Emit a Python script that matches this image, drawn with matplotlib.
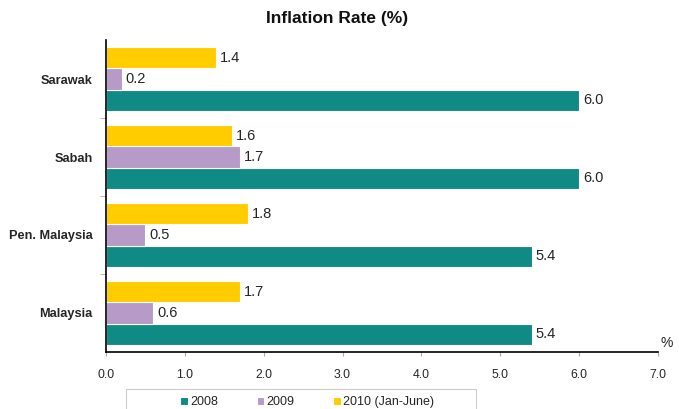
import matplotlib.pyplot as plt
import numpy as np
from matplotlib.patches import Rectangle

plt.rcParams["font.family"] = ["Liberation Sans", "DejaVu Sans"]

regions = ["Malaysia", "Pen. Malaysia", "Sabah", "Sarawak"]
series = ["2008", "2009", "2010 (Jan-June)"]
rate_2008 = [5.4, 5.4, 6.0, 6.0]
rate_2009 = [0.6, 0.5, 1.7, 0.2]
rate_2010 = [1.7, 1.8, 1.6, 1.4]
colors = ["#108a85", "#b89ac8", "#ffcc00"]

W, H = 679, 409
fig = plt.figure(figsize=(W / 100, H / 100), dpi=100)
ax = fig.add_axes([106 / W, 1 - 352 / H, 552 / W, 312 / H])

y = np.arange(len(regions))
h = 0.27
offsets = [-h, 0, h]
text_color = "#262626"

for vals, off, col, name in zip([rate_2008, rate_2009, rate_2010], offsets, colors, series):
    bars = ax.barh(y + off, vals, height=h, color=col, edgecolor="white",
                   linewidth=0.8, label=name)
    for b, v in zip(bars, vals):
        ax.text(v + 0.05, b.get_y() + b.get_height() / 2, f"{v:.1f}",
                va="center", ha="left", fontsize=10.5, color=text_color)

ax.set_xlim(0, 7)
ax.set_ylim(-0.5, 3.5)
ax.set_xticks(np.arange(0, 8, 1))
ax.set_xticklabels([f"{t:.1f}" for t in range(8)], fontsize=8.8, color=text_color)
ax.set_yticks(y)
ax.set_yticklabels(regions, fontsize=9.2, fontweight="bold", color=text_color)
ax.tick_params(axis="y", length=0, pad=9.5)
ax.set_yticks([0.5, 1.5, 2.5], minor=True)
ax.tick_params(axis="y", which="minor", length=4, color="#aaaaaa", direction="out")
ax.tick_params(axis="x", length=3, color="#aaaaaa", pad=9)

for s in ["top", "right"]:
    ax.spines[s].set_visible(False)
ax.spines["left"].set_linewidth(1.2)
ax.spines["bottom"].set_linewidth(1.2)

ax.text(1.005, 0.005, "%", transform=ax.transAxes, fontsize=10, color=text_color,
        ha="left", va="bottom")

fig.text(337 / W, 1 - 19 / H, "Inflation Rate (%)", ha="center", va="center",
         fontsize=12.5, fontweight="bold", color="#111111")

# legend frame runs off the bottom edge like in the source
fig.patches.append(Rectangle((126 / W, -0.05), 350 / W, 0.05 + (H - 389) / H,
                             transform=fig.transFigure, facecolor="white",
                             edgecolor="#cccccc", linewidth=0.8))
handles, labels = ax.get_legend_handles_labels()
leg = fig.legend(handles, labels, loc="center left", ncol=3,
                 bbox_to_anchor=(180 / W, 1 - 402 / H), frameon=False,
                 fontsize=9, handlelength=0.6, handleheight=0.6,
                 handletextpad=0.2, columnspacing=3.1, borderpad=0,
                 borderaxespad=0)
for t in leg.get_texts():
    t.set_color(text_color)

fig.savefig("out.png", dpi=100)
